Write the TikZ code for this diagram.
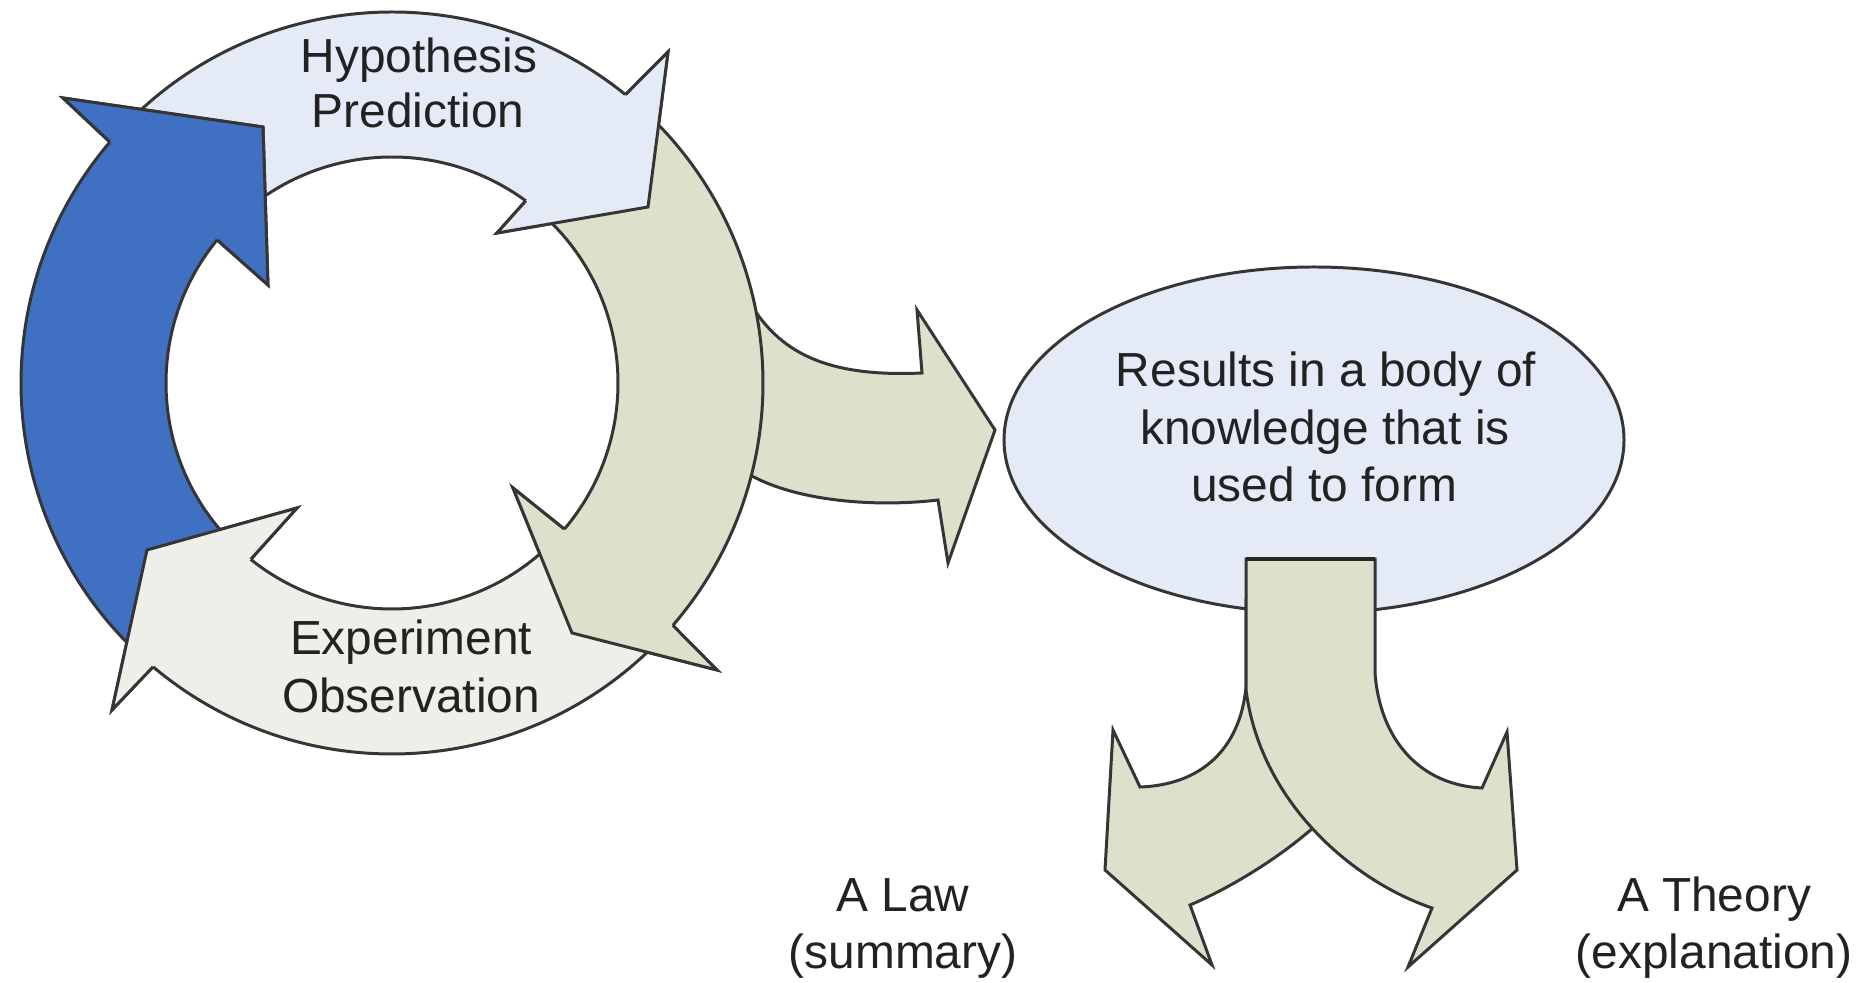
\documentclass[tikz,border=0pt]{standalone}
\usepackage{fontspec}
\setmainfont{Liberation Sans}
\definecolor{hypC}{HTML}{E4EAF6}
\definecolor{grnC}{HTML}{DDE0CB}
\definecolor{expC}{HTML}{EEEFE8}
\definecolor{bluC}{HTML}{4070C2}
\definecolor{lineC}{HTML}{353535}
\definecolor{txtC}{HTML}{222222}
\begin{document}
\begin{tikzpicture}[x=0.01cm,y=0.01cm,yscale=-1,
  shapeline/.style={draw=lineC, line width=0.85pt, line join=miter},
  lbl/.style={font=\fontsize{13.6}{16}\selectfont, text=txtC, inner sep=0pt, anchor=base}]
\useasboundingbox (0,0) rectangle (1870,983);
\fill[white] (0,0) rectangle (1870,983);

% ring centre and notch coordinates
\coordinate (C) at (392,383);
\coordinate (Hon) at ([shift={(392,383)}]-51:371);
\coordinate (Hin) at ([shift={(392,383)}]-53.7:226);
\coordinate (Gon) at ([shift={(392,383)}]40.8:371);
\coordinate (Gin) at ([shift={(392,383)}]40.3:226);
\coordinate (Eon) at ([shift={(392,383)}]130.1:371);
\coordinate (Ein) at ([shift={(392,383)}]128.7:226);
\coordinate (Bon) at ([shift={(392,383)}]220.5:371);
\coordinate (Bin) at ([shift={(392,383)}]219.3:226);

% arrow from ring to ellipse (behind the ring)
\draw[shapeline, fill=grnC] (735,290) -- (748,300) .. controls (775,345) and (815,378) .. (922,373)
  -- (917,310) -- (995,430) -- (948,563) -- (938,500)
  .. controls (870,508) and (790,500) .. (745,472) -- (735,460) -- cycle;

% four ring arrows
\draw[shapeline, fill=hypC] ([shift={(392,383)}]-137:371) arc[start angle=-137, end angle=-51, radius=371]
  -- (668,52) -- (648,207) -- (497,233) -- (Hin) arc[start angle=-53.7, end angle=-137, radius=226] -- cycle;
\draw[shapeline, fill=grnC] ([shift={(392,383)}]-48:371) arc[start angle=-48, end angle=40.8, radius=371]
  -- (717,670) -- (572,633) -- (513,488) -- (Gin) arc[start angle=40.3, end angle=-48, radius=226] -- cycle;
\draw[shapeline, fill=expC] ([shift={(392,383)}]44:371) arc[start angle=44, end angle=130.1, radius=371]
  -- (112,710) -- (147,550) -- (297,508) -- (Ein) arc[start angle=128.7, end angle=44, radius=226] -- cycle;
\draw[shapeline, fill=bluC] ([shift={(392,383)}]133:371) arc[start angle=133, end angle=220.5, radius=371]
  -- (63,98) -- (263,127) -- (268,285) -- (Bin) arc[start angle=219.3, end angle=133, radius=226] -- cycle;

% heads on top of the following tails
\fill[hypC] (Hon) -- (668,52) -- (648,207) -- (497,233) -- (Hin) -- cycle;
\fill[grnC] (Gon) -- (717,670) -- (572,633) -- (513,488) -- (Gin) -- cycle;
\fill[expC] (Eon) -- (112,710) -- (147,550) -- (297,508) -- (Ein) -- cycle;
\fill[bluC] (Bon) -- (63,98) -- (263,127) -- (268,285) -- (Bin) -- cycle;
\draw[shapeline] (Hon) -- (668,52) -- (648,207) -- (497,233) -- (Hin);
\draw[shapeline] (Gon) -- (717,670) -- (572,633) -- (513,488) -- (Gin);
\draw[shapeline] (Eon) -- (112,710) -- (147,550) -- (297,508) -- (Ein);
\draw[shapeline] (Bon) -- (63,98) -- (263,127) -- (268,285) -- (Bin);

% ellipse
\draw[shapeline, fill=hypC] (1314,440) ellipse [x radius=310, y radius=173];

% split arrow: left branch behind, right branch with stem in front
\draw[shapeline, fill=grnC] (1246,600) -- (1246,687) .. controls (1240,750) and (1200,785) .. (1140,787)
  -- (1113,730) -- (1105,870) -- (1212,965) -- (1190,905)
  .. controls (1230,888) and (1275,860) .. (1307,833) .. controls (1330,815) and (1345,790) .. (1345,760)
  -- (1345,600) -- cycle;
\draw[shapeline, fill=grnC] (1246,559) -- (1375,559) -- (1375,673) .. controls (1380,740) and (1420,785) .. (1482,788)
  -- (1507,732) -- (1517,870) -- (1408,967) -- (1432,908)
  .. controls (1350,880) and (1260,800) .. (1246,690) -- cycle;
\draw[line width=1.4pt, draw=black!85] (1246,559) -- (1375,559);

% texts
\node[lbl] (hyp1) at (419,73) {Hypothesis};
\node[lbl] (hyp2) at (418,128) {Prediction};
\node[lbl] (exp1) at (411,655) {Experiment};
\node[lbl] (exp2) at (411,713) {Observation};
\node[lbl] (res1) at (1326,387) {Results in a body of};
\node[lbl] (res2) at (1325,445) {knowledge that is};
\node[lbl] (res3) at (1324,502) {used to form};
\node[lbl] (law1) at (903,912) {A Law};
\node[lbl] (law2) at (903,968) {(summary)};
\node[lbl] (thy1) at (1714,912) {A Theory};
\node[lbl] (thy2) at (1714,968) {(explanation)};
\end{tikzpicture}
\end{document}
